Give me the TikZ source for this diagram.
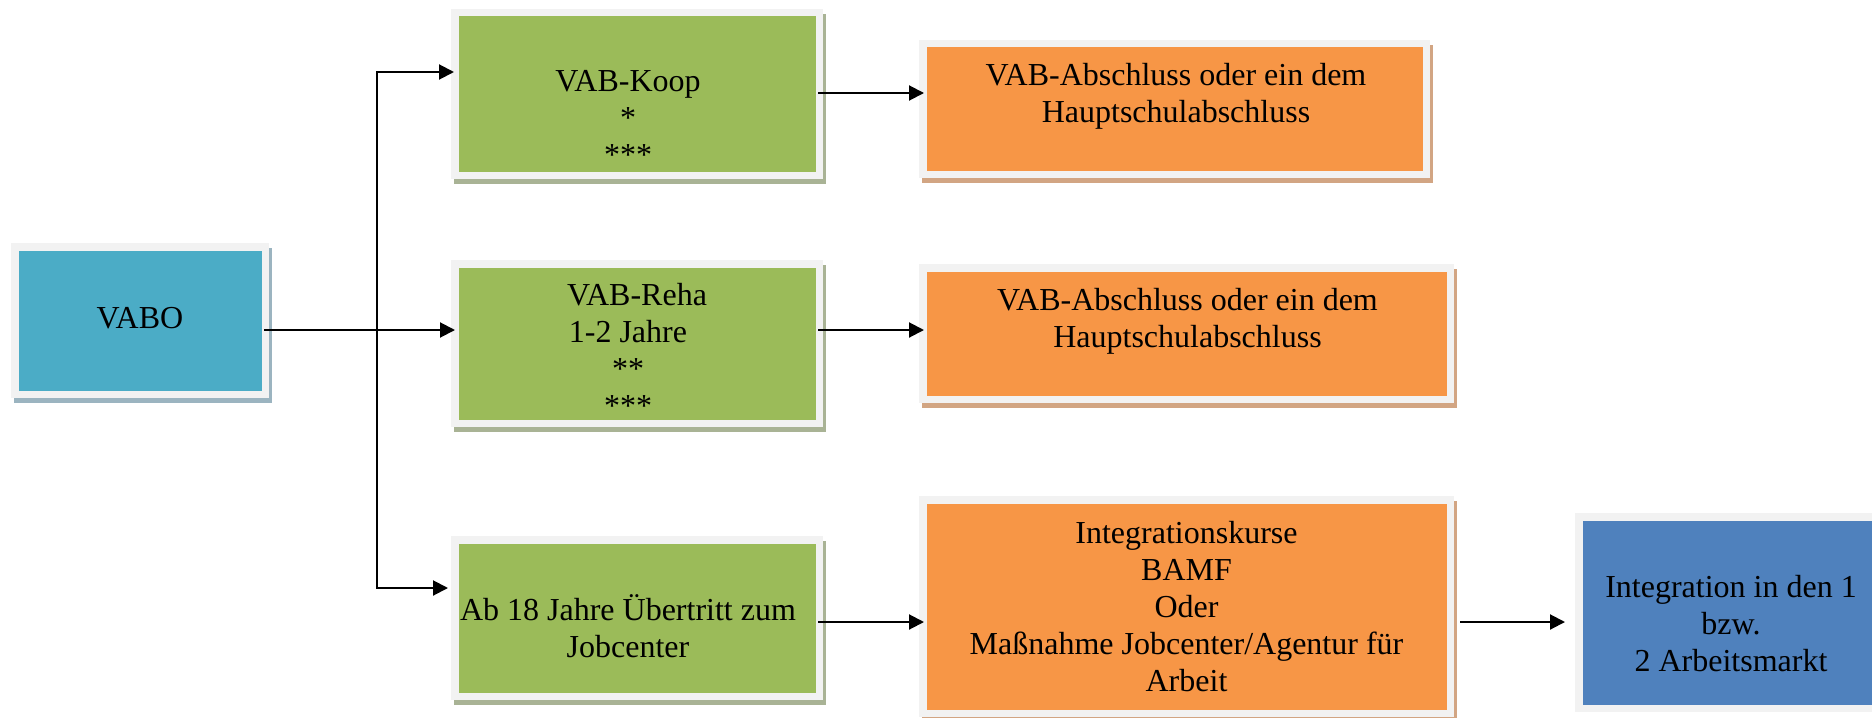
\documentclass[tikz,border=0pt]{standalone}
\usepackage{fontspec}
\setmainfont{Liberation Serif}
\usetikzlibrary{arrows.meta,shadows}
\definecolor{framegray}{HTML}{F2F2F2}
\definecolor{aqua}{HTML}{4BACC6}
\definecolor{aquashadow}{HTML}{9BB4C0}
\definecolor{leaf}{HTML}{9BBB59}
\definecolor{leafshadow}{HTML}{A9B395}
\definecolor{orangefill}{HTML}{F79646}
\definecolor{orangeshadow}{HTML}{D2A583}
\definecolor{bluefill}{HTML}{4F81BD}
\tikzset{
  framebox/.style={rectangle, inner sep=0pt, outer sep=0pt, fill=framegray, draw=none,
    path picture={\fill[#1] ([shift={(3.75pt,-3.75pt)}]path picture bounding box.north west)
      rectangle ([shift={(-3.75pt,3.75pt)}]path picture bounding box.south east);}},
  boxshadow/.style={general shadow={fill=#1, shadow xshift=1.5pt, shadow yshift=-2.5pt}},
  vabobox/.style={framebox=aqua, boxshadow=aquashadow},
  greenbox/.style={framebox=leaf, boxshadow=leafshadow},
  orangebox/.style={framebox=orangefill, boxshadow=orangeshadow},
  bluebox/.style={framebox=bluefill},
  txt/.style={anchor=base, align=center, inner sep=0pt, font=\fontsize{16}{18.5}\selectfont},
  arr/.style={draw=black, line width=1pt, -{Triangle[length=7.5pt,width=7.5pt]}},
  twoarr/.style={draw=black, line width=1pt, {Triangle[length=7.5pt,width=7.5pt]}-{Triangle[length=7.5pt,width=7.5pt]}},
}
\begin{document}
\begin{tikzpicture}[x=0.5pt, y=-0.5pt]
\useasboundingbox (0,0) rectangle (1872,717);
\clip (0,0) rectangle (1872,717);

% boxes
\node[vabobox, minimum width=129pt, minimum height=77.5pt] (vabo) at (140,320.5) {};
\node[greenbox, minimum width=186pt, minimum height=85pt] (koop) at (637,94) {};
\node[greenbox, minimum width=186pt, minimum height=83.5pt] (reha) at (637,343.5) {};
\node[greenbox, minimum width=186pt, minimum height=82pt] (ab) at (637,618) {};
\node[orangebox, minimum width=255.5pt, minimum height=69pt] (o1) at (1174.5,109) {};
\node[orangebox, minimum width=267.5pt, minimum height=69.5pt] (o2) at (1186.5,333.5) {};
\node[orangebox, minimum width=267.5pt, minimum height=110.5pt] (o3) at (1186.5,606.5) {};
\node[bluebox, minimum width=157.5pt, minimum height=99.5pt] (blue) at (1732.5,612.5) {};

% texts (anchored at the baseline of the last line)
\node[txt] (vabot) at (140,328) {VABO};
\node[txt] (koopt) at (628,165) {VAB-Koop\\*\\***};
\node[txt] (rehat) at (628,416) {\hspace*{9pt}VAB-Reha\\1-2 Jahre\\**\\***};
\node[txt] (abt) at (628,657) {Ab 18 Jahre Übertritt zum\\Jobcenter};
\node[txt] (o1t) at (1176,123) {VAB-Abschluss oder ein dem\\Hauptschulabschluss};
\node[txt] (o2t) at (1187.5,347) {VAB-Abschluss oder ein dem\\Hauptschulabschluss};
\node[txt] (o3t) at (1186.5,691) {Integrationskurse\\BAMF\\Oder\\Maßnahme Jobcenter/Agentur für\\Arbeit};
\node[txt] (bluet) at (1731,671) {Integration in den 1\\bzw.\\2 Arbeitsmarkt};

% connector levels
\coordinate (split) at (377,330);
\coordinate (top) at (377,72);
\coordinate (bot) at (377,588);
\coordinate (r1) at (0,93);
\coordinate (r3) at (0,622);

% connectors
\draw[arr, shorten <=-2.5pt, shorten >=-2pt] (vabo.east |- split) -- (reha.west |- split);
\draw[twoarr, shorten <=-1.5pt, shorten >=1.5pt] (koop.west |- top) -- (top) -- (bot) -- (ab.west |- bot);
\draw[arr, shorten <=-2.5pt, shorten >=-2.5pt] (koop.east |- r1) -- (o1.west |- r1);
\draw[arr, shorten <=-2.5pt, shorten >=-2.5pt] (reha.east |- split) -- (o2.west |- split);
\draw[arr, shorten <=-2.5pt, shorten >=-2.5pt] (ab.east |- r3) -- (o3.west |- r3);
\draw[arr, shorten <=3pt, shorten >=5pt] (o3.east |- r3) -- (blue.west |- r3);
\end{tikzpicture}
\end{document}
